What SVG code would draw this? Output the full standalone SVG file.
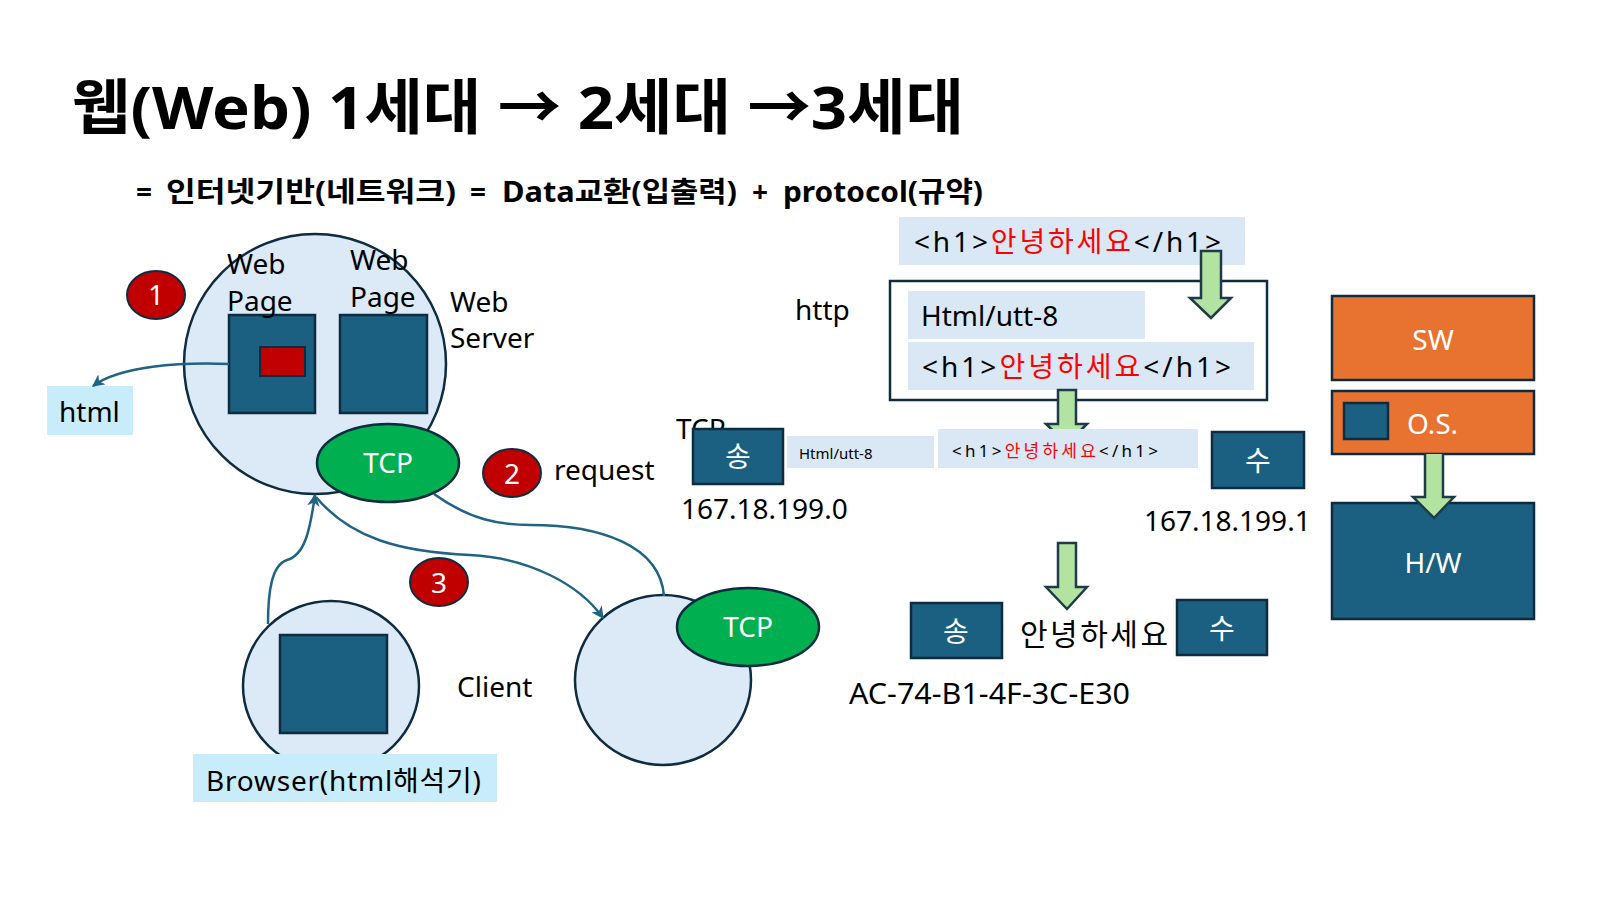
<svg xmlns="http://www.w3.org/2000/svg" width="1600" height="900" viewBox="0 0 1600 900">
<style>
text{font-family:"Noto Sans","Noto Sans CJK KR",sans-serif;fill:#000}
.t28{font-size:28px}
.sub{font-size:28px;font-weight:bold}
.w{fill:#fff}
.red{fill:#ff0000}
.dk{fill:#1b6080;stroke:#0d2c40;stroke-width:2.5}
.lc{fill:#dce9f6;stroke:#0d2c40;stroke-width:2.5}
.tcp{fill:#00b050;stroke:#0d2c40;stroke-width:2.5}
.num{fill:#c00000;stroke:#0d2c40;stroke-width:2}
.tb{fill:#c9ecfa}
.hb{fill:#dae8f6}
.or{fill:#e87331;stroke:#0d2c40;stroke-width:2.5}
.ga{fill:#b3e3a0;stroke:#1d3b4a;stroke-width:2.5}
.con{fill:none;stroke:#1f6385;stroke-width:2.5}
</style>
<defs>
<marker id="ah" viewBox="0 0 10 10" refX="9" refY="5" markerWidth="5" markerHeight="5" orient="auto" markerUnits="strokeWidth">
<path d="M0,0 L10,5 L0,10 L3,5 Z" fill="#1f6385"/>
</marker>
</defs>
<rect width="1600" height="900" fill="#fff"/>

<g id="title">
<text x="72" y="129" font-size="60" font-weight="bold" textLength="892" lengthAdjust="spacingAndGlyphs">웹(Web) 1세대 → 2세대 →3세대</text>
<text class="sub" x="136" y="202">=</text>
<text class="sub" x="166" y="202" textLength="290" lengthAdjust="spacingAndGlyphs">인터넷기반(네트워크)</text>
<text class="sub" x="470" y="202">=</text>
<text class="sub" x="502" y="202" textLength="235" lengthAdjust="spacingAndGlyphs">Data교환(입출력)</text>
<text class="sub" x="752" y="202">+</text>
<text class="sub" x="783" y="202" textLength="200" lengthAdjust="spacingAndGlyphs">protocol(규약)</text>
</g>

<g id="html-label">
<rect class="tb" x="47" y="386" width="86" height="49"/>
<text class="t28" x="59" y="422">html</text>
</g>

<g id="server">
<ellipse class="lc" cx="315" cy="364" rx="131" ry="130"/>
<rect class="dk" x="229" y="315" width="86" height="98"/>
<rect fill="#c00000" stroke="#0d2c40" stroke-width="2" x="260" y="347" width="45" height="29"/>
<rect class="dk" x="340" y="315" width="87" height="98"/>
<text class="t28" x="227" y="274">Web</text>
<text class="t28" x="227" y="311">Page</text>
<text class="t28" x="350" y="270">Web</text>
<text class="t28" x="350" y="307">Page</text>
<text class="t28" x="450" y="312">Web</text>
<text class="t28" x="450" y="348">Server</text>
</g>

<g id="server-tcp">
<ellipse class="tcp" cx="388" cy="463" rx="71" ry="39"/>
<text class="t28 w" x="388" y="473" text-anchor="middle">TCP</text>
</g>

<g id="num1">
<ellipse class="num" cx="156" cy="295" rx="29" ry="24"/>
<text class="t28 w" x="156" y="305" text-anchor="middle">1</text>
</g>
<g id="num2">
<ellipse class="num" cx="512" cy="473" rx="29" ry="24"/>
<text class="t28 w" x="512" y="484" text-anchor="middle">2</text>
<text class="t28" x="554" y="480">request</text>
</g>
<g id="num3">
<ellipse class="num" cx="439" cy="582" rx="29" ry="24"/>
<text class="t28 w" x="439" y="593" text-anchor="middle">3</text>
</g>

<g id="client">
<ellipse class="lc" cx="331" cy="686" rx="88" ry="85"/>
<rect class="dk" x="280" y="635" width="107" height="98"/>
<text class="t28" x="457" y="697">Client</text>
</g>
<g id="browser">
<rect class="tb" x="193" y="754" width="304" height="48"/>
<text class="t28" x="206" y="791" textLength="275" lengthAdjust="spacing">Browser(html해석기)</text>
</g>

<g id="client2">
<ellipse class="lc" cx="663" cy="680" rx="88" ry="85"/>
<ellipse class="tcp" cx="748" cy="627" rx="71" ry="39"/>
<text class="t28 w" x="748" y="637" text-anchor="middle">TCP</text>
</g>

<g id="connectors">
<path class="con" d="M229,364 C180,362 120,366 93,386" marker-end="url(#ah)"/>
<path class="con" d="M268,624 C268,590 272,565 287,560 C305,555 310,530 315,495" marker-end="url(#ah)"/>
<path class="con" d="M316,497 C350,538 400,552 470,555 C530,558 580,585 603,618" marker-end="url(#ah)"/>
<path class="con" d="M434,494 C470,520 500,525 530,525 C600,525 660,545 664,596"/>
</g>

<g id="http">
<text class="t28" x="795" y="320">http</text>
<rect class="hb" x="899" y="217" width="346" height="48"/>
<text class="t28" x="914" y="252" textLength="307" lengthAdjust="spacing">&lt;h1&gt;<tspan class="red">안녕하세요</tspan>&lt;/h1&gt;</text>
<rect x="890" y="281" width="377" height="119" fill="#fff" stroke="#0d2c40" stroke-width="2.5"/>
<rect class="hb" x="908" y="291" width="237" height="48"/>
<text class="t28" x="921" y="326">Html/utt-8</text>
<rect class="hb" x="908" y="342" width="346" height="48"/>
<text class="t28" x="922" y="377" textLength="309" lengthAdjust="spacing">&lt;h1&gt;<tspan class="red">안녕하세요</tspan>&lt;/h1&gt;</text>
<path class="ga" d="M1201,251 H1221 V298 H1231 L1211,318 L1190,298 H1201 Z"/>
</g>

<g id="mid-arrow">
<path class="ga" d="M1058,390 H1076 V424 H1087 L1067,444 L1046,424 H1058 Z"/>
</g>

<g id="tcp-row">
<text class="t28" x="676" y="439">TCP</text>
<rect class="dk" x="693" y="429" width="90" height="55"/>
<text class="t28 w" x="738" y="467" text-anchor="middle">송</text>
<rect class="hb" x="787" y="436" width="147" height="32"/>
<text x="799" y="459" font-size="15">Html/utt-8</text>
<rect class="hb" x="938" y="429" width="260" height="39"/>
<text x="952" y="457" font-size="17" textLength="206" lengthAdjust="spacing">&lt;h1&gt;<tspan class="red">안녕하세요</tspan>&lt;/h1&gt;</text>
<rect class="dk" x="1212" y="432" width="92" height="56"/>
<text class="t28 w" x="1258" y="471" text-anchor="middle">수</text>
<text class="t28" x="681" y="519">167.18.199.0</text>
<text class="t28" x="1144" y="531">167.18.199.1</text>
</g>

<g id="low-arrow">
<path class="ga" d="M1058,543 H1076 V587 H1087 L1067,609 L1046,587 H1058 Z"/>
</g>

<g id="mac-row">
<rect class="dk" x="911" y="603" width="91" height="55"/>
<text class="t28 w" x="956" y="642" text-anchor="middle">송</text>
<text x="1020" y="645" font-size="30" textLength="148" lengthAdjust="spacing">안녕하세요</text>
<rect class="dk" x="1177" y="600" width="90" height="55"/>
<text class="t28 w" x="1222" y="639" text-anchor="middle">수</text>
<text x="849" y="704" font-size="29" textLength="281" lengthAdjust="spacingAndGlyphs">AC-74-B1-4F-3C-E30</text>
</g>

<g id="stack">
<rect class="or" x="1332" y="296" width="202" height="84"/>
<text class="t28 w" x="1433" y="350" text-anchor="middle">SW</text>
<rect class="or" x="1332" y="391" width="202" height="63"/>
<rect class="dk" x="1344" y="403" width="44" height="36"/>
<text class="t28 w" x="1407" y="434">O.S.</text>
<rect class="dk" x="1332" y="503" width="202" height="116"/>
<text class="t28 w" x="1433" y="573" text-anchor="middle">H/W</text>
<path class="ga" d="M1425,454 V497 H1413 L1434,518 L1454,497 H1443 V454"/>
</g>
</svg>
